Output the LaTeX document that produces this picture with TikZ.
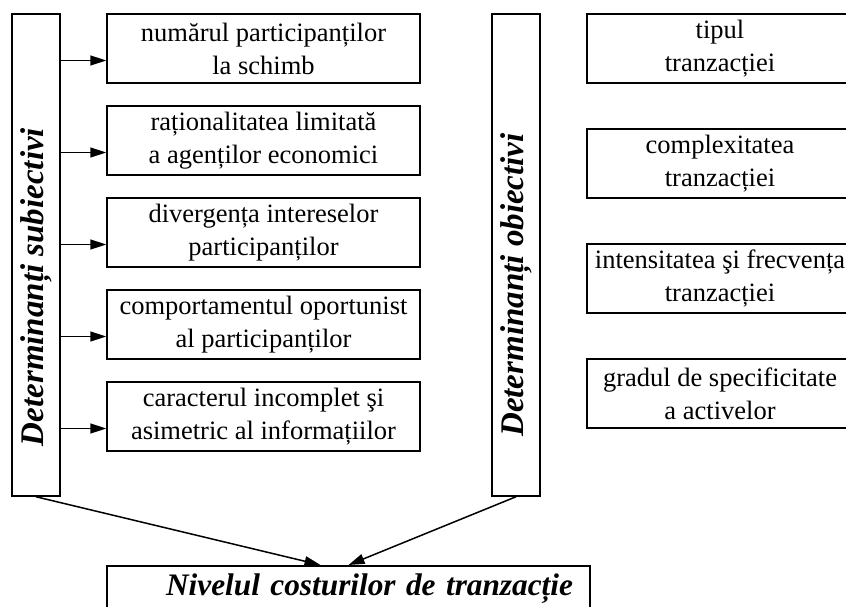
\documentclass[tikz,border=0pt]{standalone}
\usepackage{fontspec}
\setmainfont{Liberation Serif}
\usepackage{tikz}
\usetikzlibrary{positioning,arrows.meta}
\tikzstyle{pixels} = [x = 1pt, y = -1pt]
\tikzstyle{boxStyle} = [draw, line width = 1.5pt, align = center, inner sep = 0pt, font = \fontsize{26.5}{33}\selectfont]
\tikzstyle{leftBox} = [boxStyle, minimum width = 313pt, minimum height = 69pt]
\tikzstyle{rightBox} = [boxStyle, minimum width = 266pt, minimum height = 69pt]
\tikzstyle{determinantBox} = [draw, line width = 1.5pt, minimum width = 48pt, minimum height = 482pt]
\tikzstyle{determinantText} = [rotate = 90, inner sep = 0pt, font = \fontsize{33}{40}\selectfont\bfseries\itshape]
\tikzstyle{levelBox} = [boxStyle, anchor = north, text width = 449pt, minimum height = 46pt, inner xsep = 17pt, align = right, font = \fontsize{31.3}{38}\selectfont\bfseries\itshape]
\tikzstyle{arrowStyle} = [line width = 1.5pt, -{Triangle[length = 16pt, width = 10pt]}]
\newcommand{\factorLeft}[3]{\node [leftBox] (#1) at (263.5, #2) {#3};}
\newcommand{\factorRight}[3]{\node [rightBox] (#1) at (720, #2) {#3};}
\newcommand{\factorArrow}[1]{
  \coordinate (#1Tip) at ([yshift = -12pt]#1.west);
  \draw [arrowStyle] (#1Tip -| subjective.east) -- (#1Tip);
}

\begin{document}
\begin{tikzpicture}[pixels]
          \clip (0, 0) rectangle (846, 607);

          \node [determinantBox] (subjective) at (36, 255) {};
          \node [determinantText] (subjectiveText) at (36, 287) {Determinanți subiectivi};
          \node [determinantBox] (objective) at (516, 255) {};
          \node [determinantText] (objectiveText) at (516, 285) {Determinanți obiectivi};

          \factorLeft{participants}{48.5}{numărul participanților\\la schimb}
          \factorLeft{rationality}{140.5}{raționalitatea limitată\\a agenților economici}
          \factorLeft{divergence}{232.5}{divergența intereselor\\participanților}
          \factorLeft{opportunism}{324.5}{comportamentul oportunist\\al participanților}
          \factorLeft{information}{416.5}{caracterul incomplet şi\\asimetric al informațiilor}

          \factorArrow{participants}
          \factorArrow{rationality}
          \factorArrow{divergence}
          \factorArrow{opportunism}
          \factorArrow{information}

          \factorRight{type}{48.5}{tipul\\tranzacției}
          \factorRight{complexity}{163.5}{complexitatea\\tranzacției}
          \factorRight{frequency}{278.5}{intensitatea şi frecvența\\tranzacției}
          \factorRight{specificity}{393.5}{gradul de specificitate\\a activelor}

          \node [levelBox] (level) at (348.5, 565) {Nivelul costurilor de tranzacție};

          \draw [arrowStyle] (subjective.south) -- ([xshift = -28pt]level.north);
          \draw [arrowStyle] (objective.south) -- (level.north);
        \end{tikzpicture}
\end{document}
